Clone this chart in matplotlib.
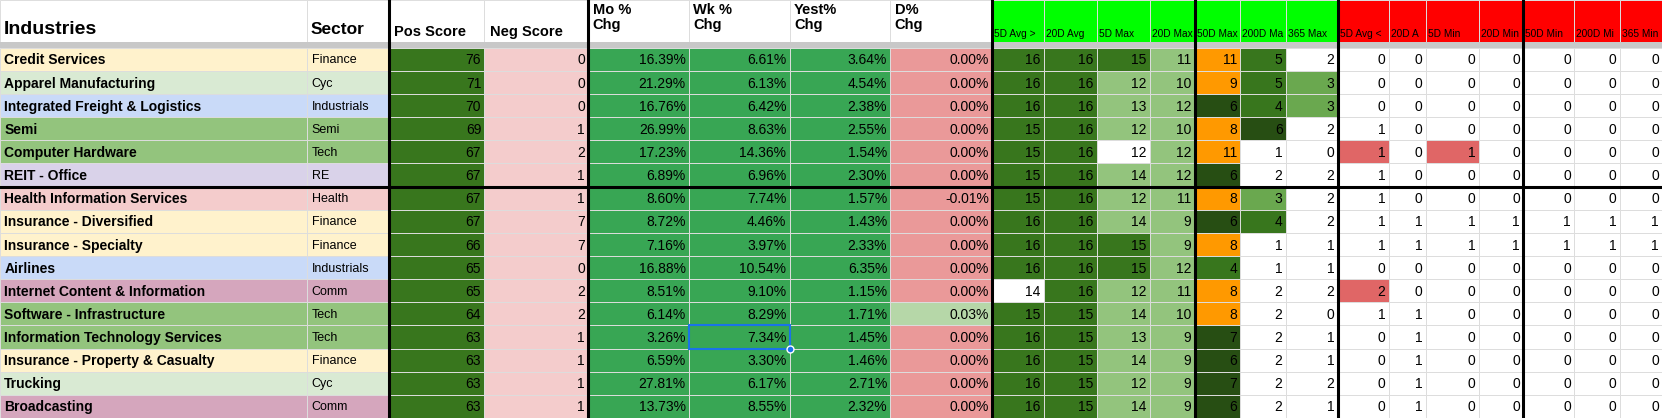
import matplotlib.pyplot as plt
from matplotlib.patches import Rectangle

# ---- data ----
industries = ["Credit Services", "Apparel Manufacturing", "Integrated Freight & Logistics", "Semi",
              "Computer Hardware", "REIT - Office", "Health Information Services", "Insurance - Diversified",
              "Insurance - Specialty", "Airlines", "Internet Content & Information", "Software - Infrastructure",
              "Information Technology Services", "Insurance - Property & Casualty", "Trucking", "Broadcasting"]
sectors = ["Finance", "Cyc", "Industrials", "Semi", "Tech", "RE", "Health", "Finance",
           "Finance", "Industrials", "Comm", "Tech", "Tech", "Finance", "Cyc", "Comm"]
pos_score = [76, 71, 70, 69, 67, 67, 67, 67, 66, 65, 65, 64, 63, 63, 63, 63]
neg_score = [0, 0, 0, 1, 2, 1, 1, 7, 7, 0, 2, 2, 1, 1, 1, 1]
mo_chg = [16.39, 21.29, 16.76, 26.99, 17.23, 6.89, 8.60, 8.72, 7.16, 16.88, 8.51, 6.14, 3.26, 6.59, 27.81, 13.73]
wk_chg = [6.61, 6.13, 6.42, 8.63, 14.36, 6.96, 7.74, 4.46, 3.97, 10.54, 9.10, 8.29, 7.34, 3.30, 6.17, 8.55]
yest_chg = [3.64, 4.54, 2.38, 2.55, 1.54, 2.30, 1.57, 1.43, 2.33, 6.35, 1.15, 1.71, 1.45, 1.46, 2.71, 2.32]
d_chg = [0.00, 0.00, 0.00, 0.00, 0.00, 0.00, -0.01, 0.00, 0.00, 0.00, 0.00, 0.03, 0.00, 0.00, 0.00, 0.00]

# header labels as they appear (truncated by the cell width)
max_headers = ["5D Avg >", "20D Avg", "5D Max", "20D Max", "50D Max", "200D Ma", "365 Max"]
max_vals = [
    [16, 16, 15, 11, 11, 5, 2], [16, 16, 12, 10, 9, 5, 3], [16, 16, 13, 12, 6, 4, 3], [15, 16, 12, 10, 8, 6, 2],
    [15, 16, 12, 12, 11, 1, 0], [15, 16, 14, 12, 6, 2, 2], [15, 16, 12, 11, 8, 3, 2], [16, 16, 14, 9, 6, 4, 2],
    [16, 16, 15, 9, 8, 1, 1], [16, 16, 15, 12, 4, 1, 1], [14, 16, 12, 11, 8, 2, 2], [15, 15, 14, 10, 8, 2, 0],
    [16, 15, 13, 9, 7, 2, 1], [16, 15, 14, 9, 6, 2, 1], [16, 15, 12, 9, 7, 2, 2], [16, 15, 14, 9, 6, 2, 1]]
# conditional-format codes: D dark green, L light green, M medium, X darkest, O orange, W white
max_fmt = ["DDDLODW", "DDLLODM", "DDLLXDM", "DDLLOXW", "DDWLOWW", "DDLLXWW", "DDLLOMW", "DDLLXDW",
           "DDDLOWW", "DDDLDWW", "WDLLOWW", "DDLLOWW", "DDLLXWW", "DDLLXWW", "DDLLXWW", "DDLLXWW"]

min_headers = ["5D Avg <", "20D A", "5D Min", "20D Min", "50D Min", "200D Mi", "365 Min"]
min_vals = [
    [0, 0, 0, 0, 0, 0, 0], [0, 0, 0, 0, 0, 0, 0], [0, 0, 0, 0, 0, 0, 0], [1, 0, 0, 0, 0, 0, 0],
    [1, 0, 1, 0, 0, 0, 0], [1, 0, 0, 0, 0, 0, 0], [1, 0, 0, 0, 0, 0, 0], [1, 1, 1, 1, 1, 1, 1],
    [1, 1, 1, 1, 1, 1, 1], [0, 0, 0, 0, 0, 0, 0], [2, 0, 0, 0, 0, 0, 0], [1, 1, 0, 0, 0, 0, 0],
    [0, 1, 0, 0, 0, 0, 0], [0, 1, 0, 0, 0, 0, 0], [0, 1, 0, 0, 0, 0, 0], [0, 1, 0, 0, 0, 0, 0]]
min_fmt = ["WWWWWWW"] * 4 + ["RWRWWWW"] + ["WWWWWWW"] * 5 + ["RWWWWWW"] + ["WWWWWWW"] * 5

sector_colors = {"Finance": "#fff2cc", "Cyc": "#d9ead3", "Industrials": "#c9daf8", "Semi": "#93c47d",
                 "Tech": "#93c47d", "RE": "#d9d2e9", "Health": "#f4cccc", "Comm": "#d5a6bd"}
fmt_colors = {"D": "#38761d", "L": "#93c47d", "M": "#6aa84f", "X": "#274e13", "O": "#ff9900",
              "W": "#ffffff", "R": "#e06666"}

# ---- layout (in reference pixel units) ----
W, H = 1568, 394
edges = [0, 290, 367, 457, 555, 650, 745, 840, 936,
         985, 1035, 1085, 1127, 1170, 1213, 1262,
         1310, 1345, 1395, 1437, 1485, 1528, 1568]
head_h, sep_h = 40, 5
row_h = (H - head_h - sep_h) / len(industries)
y0 = head_h + sep_h

plt.rcParams['font.family'] = ['Liberation Sans Narrow', 'Liberation Sans', 'DejaVu Sans']
fig = plt.figure(figsize=(16.62, 4.18), dpi=100)
ax = fig.add_axes([0, 0, 1, 1])
ax.set_xlim(0, W)
ax.set_ylim(H, 0)
ax.axis('off')

def cell(c, r, color, text=None, ha='right', bold=False, size=10):
    x0, x1 = edges[c], edges[c + 1]
    y = y0 + r * row_h
    ax.add_patch(Rectangle((x0, y), x1 - x0, row_h, facecolor=color, edgecolor='#dddddd', lw=0.7))
    if text is not None:
        tx = x1 - 3 if ha == 'right' else x0 + 4
        ax.text(tx, y + row_h / 2 + 1, text, ha=ha, va='center', fontsize=size,
                fontweight='bold' if bold else 'normal')

for r in range(len(industries)):
    sc = sector_colors[sectors[r]]
    cell(0, r, sc, industries[r], ha='left', bold=True)
    cell(1, r, sc, sectors[r], ha='left', size=9)
    cell(2, r, "#38761d", str(pos_score[r]))
    cell(3, r, "#f4cccc", str(neg_score[r]))
    cell(4, r, "#38a654", f"{mo_chg[r]:.2f}%")
    cell(5, r, "#38a654", f"{wk_chg[r]:.2f}%")
    cell(6, r, "#38a654", f"{yest_chg[r]:.2f}%")
    cell(7, r, "#b6d7a8" if d_chg[r] > 0 else "#ea9999", f"{d_chg[r]:.2f}%")
    for k in range(7):
        cell(8 + k, r, fmt_colors[max_fmt[r][k]], str(max_vals[r][k]))
        cell(15 + k, r, fmt_colors[min_fmt[r][k]], str(min_vals[r][k]))

# header
for c in range(len(edges) - 1):
    col = "#00ff00" if 8 <= c < 15 else "#ff0000" if c >= 15 else "white"
    ax.add_patch(Rectangle((edges[c], 0), edges[c + 1] - edges[c], head_h,
                           facecolor=col, edgecolor='#dddddd', lw=0.7))
ax.add_patch(Rectangle((0, head_h), W, sep_h, facecolor='#c8c8c8', edgecolor='none'))

ax.text(4, 28, "Industries", fontsize=14, fontweight='bold', va='center')
ax.text(edges[1] + 3, 28, "Sector", fontsize=12.5, fontweight='bold', va='center')
ax.text(edges[2] + 5, 30, "Pos Score", fontsize=10.5, fontweight='bold', va='center')
ax.text(edges[3] + 5, 30, "Neg Score", fontsize=10.5, fontweight='bold', va='center')
for c, lab in zip(range(4, 8), ["Mo %\nChg", "Wk %\nChg", "Yest%\nChg", "D%\nChg"]):
    ax.text(edges[c] + 4, 3, lab, fontsize=10.5, fontweight='bold', va='top', linespacing=1.1)
for k, lab in enumerate(max_headers + min_headers):
    ax.text(edges[8 + k] + 2, 32, lab, fontsize=7.3, va='center')

# thick borders
for x in [367, 555, 936, 1127, 1262, 1437]:
    ax.plot([x, x], [0, H], color='black', lw=2.2)
ax.plot([0, W], [y0 + 6 * row_h] * 2, color='black', lw=2.2)

# selected cell
r = industries.index("Information Technology Services")
ax.add_patch(Rectangle((edges[5], y0 + r * row_h), edges[6] - edges[5], row_h,
                       facecolor='none', edgecolor='#1a73e8', lw=1.5))
ax.plot([edges[6]], [y0 + (r + 1) * row_h], 'o', color='#1a73e8', ms=5, mec='white', mew=1)

fig.savefig("out.png", dpi=100)
